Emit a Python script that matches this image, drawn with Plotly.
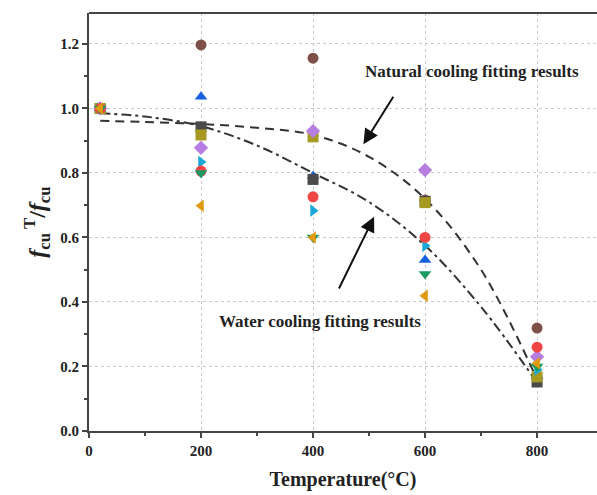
import plotly.graph_objects as go

temps = [20, 200, 400, 600, 800]
brown_circle = [1.0, 1.197, 1.156, 0.716, 0.319]
blue_triup = [1.0, 1.036, 0.79, 0.53, 0.17]
dark_square = [1.0, 0.943, 0.78, 0.712, 0.152]
olive_point = [1.0, 0.918, 0.912, 0.708, 0.168]
purple_diamond = [1.0, 0.878, 0.93, 0.809, 0.23]
cyan_triright = [1.0, 0.834, 0.683, 0.574, 0.19]
red_circle = [1.0, 0.806, 0.726, 0.60, 0.26]
green_tridown = [1.0, 0.80, 0.60, 0.487, 0.20]
orange_trileft = [1.0, 0.698, 0.60, 0.419, 0.21]

fit_temps = [20, 100, 200, 300, 400, 500, 600, 700, 800]
natural_fit = [0.962, 0.958, 0.952, 0.94, 0.918, 0.85, 0.72, 0.50, 0.16]
water_fit = [0.985, 0.975, 0.945, 0.885, 0.80, 0.71, 0.575, 0.385, 0.15]

x_ticks = [0, 200, 400, 600, 800]
y_ticks = [0.0, 0.2, 0.4, 0.6, 0.8, 1.0, 1.2]

series = [
    (brown_circle, "circle", "#7f4f4a"),
    (blue_triup, "triangle-up", "#1560e0"),
    (dark_square, "square", "#4a4a4a"),
    (olive_point, "square", "#a89a20"),
    (purple_diamond, "diamond", "#b57ee0"),
    (cyan_triright, "triangle-right", "#1aa8d8"),
    (red_circle, "circle", "#f04545"),
    (green_tridown, "triangle-down", "#1a9a60"),
    (orange_trileft, "triangle-left", "#e09a10"),
]

SERIF = "Liberation Serif"
INK = "#222222"

fig = go.Figure()
fig.add_trace(go.Scatter(x=fit_temps, y=natural_fit, mode="lines",
                         line=dict(color="#333333", width=2, dash="9px,6px", shape="spline")))
fig.add_trace(go.Scatter(x=fit_temps, y=water_fit, mode="lines",
                         line=dict(color="#333333", width=2, dash="10px,4px,3px,4px", shape="spline")))
for vals, sym, col in series:
    fig.add_trace(go.Scatter(x=temps, y=vals, mode="markers",
                             marker=dict(symbol=sym, size=11, color=col, line=dict(width=0))))

fig.update_layout(
    width=597, height=495, showlegend=False,
    margin=dict(l=89, r=0, t=13, b=64),
    plot_bgcolor="white", paper_bgcolor="white",
    font=dict(family=SERIF, size=15, color=INK),
)
fig.update_xaxes(range=[0, 907], tickvals=x_ticks,
                 ticktext=["<b>%d</b>" % v for v in x_ticks],
                 tickfont=dict(family=SERIF, size=15, color=INK),
                 showline=True, linecolor="#444444", linewidth=2,
                 ticks="outside", ticklen=5, tickwidth=1.5, tickcolor="#444444",
                 minor=dict(tickvals=[100, 300, 500, 700], ticks="outside", ticklen=3, tickcolor="#444444", showgrid=False),
                 showgrid=True, gridcolor="#c8c8c8", griddash="dot", gridwidth=1,
                 zeroline=False,
                 title=dict(text="<b>Temperature(°C)</b>", font=dict(family=SERIF, size=20, color=INK), standoff=14))
fig.update_yaxes(range=[0, 1.296], tickvals=y_ticks,
                 ticktext=["<b>%.1f</b>" % v for v in y_ticks],
                 tickfont=dict(family=SERIF, size=15, color=INK),
                 showline=True, linecolor="#444444", linewidth=2,
                 ticks="outside", ticklen=5, tickwidth=1.5, tickcolor="#444444",
                 minor=dict(tickvals=[0.1, 0.3, 0.5, 0.7, 0.9, 1.1], ticks="outside", ticklen=3, tickcolor="#444444", showgrid=False),
                 showgrid=True, gridcolor="#c8c8c8", griddash="dot", gridwidth=1,
                 zeroline=False,
                 title=dict(text="<b><i>f</i><sub>cu</sub><sup> T</sup>/<i>f</i><sub>cu</sub></b>",
                            font=dict(family=SERIF, size=24, color=INK), standoff=8))

# top border line
fig.add_shape(type="line", xref="paper", yref="paper", x0=0, x1=1, y0=1, y1=1,
              line=dict(color="#444444", width=2))

fig.add_annotation(x=684, y=1.116, text="<b>Natural cooling fitting results</b>", showarrow=False,
                   font=dict(family=SERIF, size=17, color=INK))
fig.add_annotation(x=412, y=0.338, text="<b>Water cooling fitting results</b>", showarrow=False,
                   font=dict(family=SERIF, size=17, color=INK))
# arrows
fig.add_annotation(x=490, y=0.889, ax=545, ay=1.041, xref="x", yref="y", axref="x", ayref="y",
                   showarrow=True, arrowhead=2, arrowsize=1.5, arrowwidth=2, arrowcolor="#111111", text="")
fig.add_annotation(x=509, y=0.664, ax=445, ay=0.437, xref="x", yref="y", axref="x", ayref="y",
                   showarrow=True, arrowhead=2, arrowsize=1.5, arrowwidth=2, arrowcolor="#111111", text="")

fig.write_html("out.html")
